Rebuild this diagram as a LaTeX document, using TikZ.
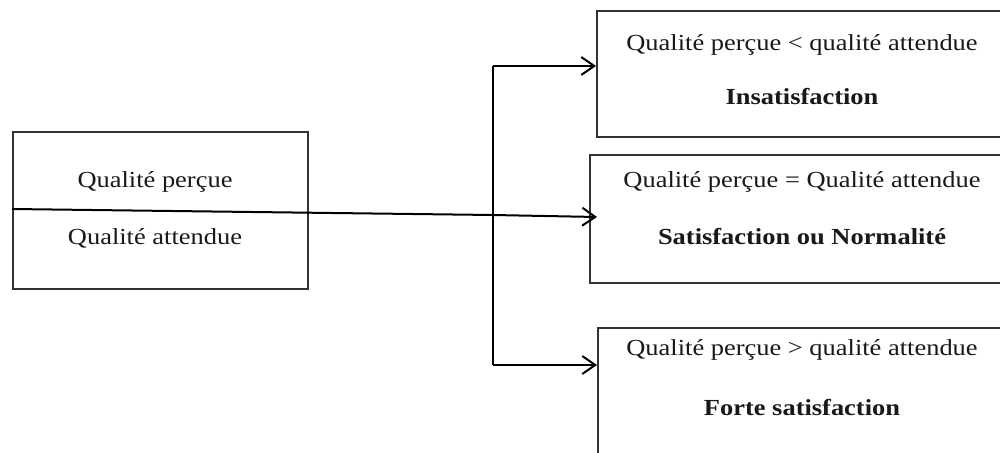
\documentclass[tikz,border=0pt]{standalone}
\usepackage{fontspec}
\setmainfont{Liberation Serif}
\usetikzlibrary{arrows.meta}
\newcommand{\wtxt}[1]{\scalebox{1.15}[1]{#1}}
\tikzset{
  box/.style={draw=black!80, line width=2pt, rectangle, inner sep=0pt},
  lbl/.style={inner sep=0pt, text=black!90, font=\fontsize{23}{27}\selectfont},
  conn/.style={draw=black, line width=2pt},
  arr/.style={conn, -{Straight Barb[length=13pt,width=18pt,line width=2pt]}}
}
\begin{document}
\begin{tikzpicture}[x=1pt,y=-1pt]
\path[use as bounding box, clip] (0,0) rectangle (1000,452);
\fill[white] (0,0) rectangle (1000,452);
% left box
\node[box, anchor=north west, minimum width=295pt, minimum height=157pt] (L) at (12,131) {};
\node[lbl] (Lp) at (155,182) {\wtxt{Qualité perçue}};
\node[lbl] (La) at (155,238) {\wtxt{Qualité attendue}};
% right boxes
\node[box, anchor=north west, minimum width=412pt, minimum height=126pt] (A) at (596,10) {};
\node[lbl] (A1) at (802,45) {\wtxt{Qualité perçue < qualité attendue}};
\node[lbl] (A2) at (802,97) {\wtxt{\textbf{Insatisfaction}}};
\node[box, anchor=north west, minimum width=426pt, minimum height=128pt] (B) at (589,154) {};
\node[lbl] (B1) at (802,182) {\wtxt{Qualité perçue = Qualité attendue}};
\node[lbl] (B2) at (802,237) {\wtxt{\textbf{Satisfaction ou Normalité}}};
\node[box, anchor=north west, minimum width=412pt, minimum height=140pt] (C) at (597,327) {};
\node[lbl] (C1) at (802,350) {\wtxt{Qualité perçue > qualité attendue}};
\node[lbl] (C2) at (802,408) {\wtxt{\textbf{Forte satisfaction}}};
% connectors
\coordinate (s) at (L.west |- 0,209);
\coordinate (j) at (493,215);
\coordinate (jt) at (493,66);
\coordinate (jb) at (493,365);
\draw[conn] (s) -- (j);
\draw[conn] (jt) -- (jb);
\draw[arr] (j) -- (597,217);
\draw[arr] (jt) -- (A.west |- jt);
\draw[arr] (jb) -- (C.west |- jb);
\end{tikzpicture}
\end{document}
